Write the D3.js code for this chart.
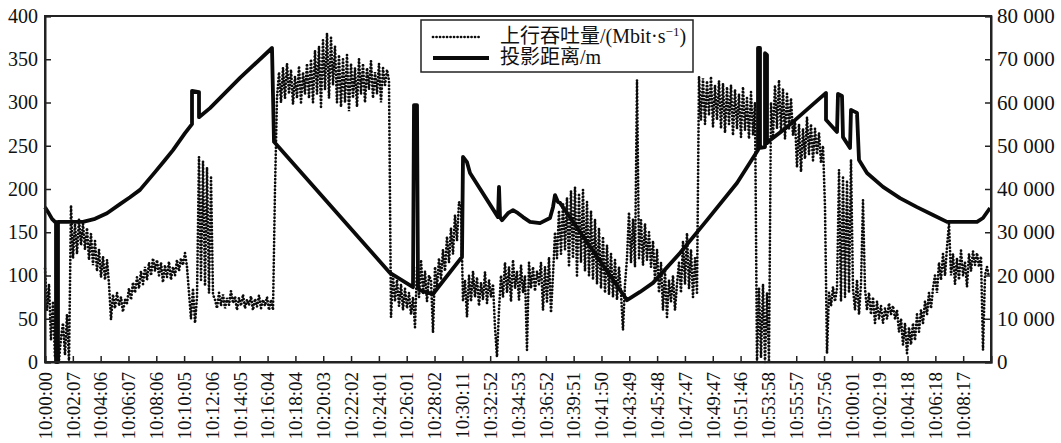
<!DOCTYPE html>
<html><head><meta charset="utf-8">
<script src="https://cdn.jsdelivr.net/npm/d3@7"></script>
<style>
html,body{margin:0;padding:0;background:#fff;}
svg{display:block;}
</style></head>
<body><svg id="c" width="1061" height="443"></svg>
<script>
// ---- data ----
const xLabels = ["10:00:00","10:02:07","10:04:06","10:06:07","10:08:06","10:10:05","10:12:06","10:14:05","10:16:04","10:18:04","10:20:03","10:22:02","10:24:01","10:26:01","10:28:02","10:30:11","10:32:52","10:34:53","10:36:52","10:39:51","10:41:50","10:43:49","10:45:48","10:47:47","10:49:47","10:51:46","10:53:58","10:55:57","10:57:56","10:00:01","10:02:19","10:04:18","10:06:18","10:08:17"];
const leftTicks = [0,50,100,150,200,250,300,350,400];
const rightTicks = [0,10000,20000,30000,40000,50000,60000,70000,80000];
const sampleCount = 946;      // samples along x
const throughputStep = 2;     // samples between throughput readings
// uplink throughput, Mbit/s (one reading every 2 samples)
const throughput = [
108,60,90,25,70,5,
20,2,28,45,8,55,0,
181,120,160,125,165,135,160,
130,155,118,148,112,140,105,130,98,122,95,118,90,
49,
78,62,80,65,75,58,72,68,
85,72,92,80,98,85,105,90,110,95,115,100,120,105,118,
100,115,92,112,98,116,95,110,100,118,105,120,112,
126,110,80,50,85,45,75,
237,95,232,88,225,80,215,78,
72,62,80,65,78,62,74,66,82,68,76,60,74,65,78,62,72,66,76,60,73,64,77,62,72,65,75,60,72,60,
200,305,
335,300,340,305,345,310,338,298,330,305,342,300,335,310,345,305,
350,300,360,310,365,295,372,315,380,305,375,320,365,300,355,
295,350,300,355,290,345,305,340,295,350,
310,345,300,340,315,348,305,335,310,345,300,340,320,338,325,
52,
100,70,95,65,90,60,85,62,80,55,75,
40,
110,75,118,80,105,70,100,95,34,
110,85,120,95,130,105,145,115,155,125,170,140,185,
180,70,
95,52,100,70,105,75,98,65,92,72,104,68,95,75,90,
40,6,60,
100,75,115,80,110,70,118,85,105,72,112,80,100,14,
115,85,110,82,105,90,
115,60,110,70,121,57,100,
150,120,175,125,184,
130,190,110,198,120,202,100,195,115,199,105,185,100,175,95,165,90,155,85,145,80,135,78,125,75,118,72,110,
80,37,90,
120,173,115,165,110,326,120,164,112,160,118,150,110,140,
95,130,80,115,60,105,52,95,70,100,60,90,
115,80,140,90,149,85,130,75,120,80,
330,
280,328,275,325,285,330,272,320,280,325,
270,322,265,318,275,320,262,315,270,310,260,318,268,305,258,312,262,300,
0,85,5,90,0,80,0,
300,260,320,270,326,265,315,258,310,270,305,262,
280,225,275,220,270,235,283,240,275,233,270,240,265,230,250,179,
10,
80,65,87,70,85,
222,70,215,75,210,80,
234,85,
60,95,55,90,
187,
85,60,80,55,75,45,70,50,65,45,
62,50,68,55,65,50,60,
35,50,20,45,10,40,
20,45,25,55,35,60,45,70,55,80,62,85,
100,80,115,95,125,100,133,160,
100,125,90,120,95,129,100,115,87,125,105,128,
112,126,110,122,
14,
100,110,98
];
// projected distance, m : [sample, metres]
const distance = [
[0,35800],[3,34700],[7,33100],[10,32400],[11,32400],[11,0],[13,0],[13,32400],[38,32400],[50,33100],[62,34400],[75,36500],[85,38100],[95,39800],
[110,43900],[120,46700],[128,49000],[140,52900],[147,55000],[147,62700],[154,62400],[154,56600],[165,58700],
[195,65700],[227,72600],[229,50900],[345,20600],[368,17300],[369,59400],[372,59400],[373,17300],
[375,16600],[380,16200],[388,15700],[395,17800],[417,24300],[418,47400],[422,46200],[425,43700],
[453,33500],[454,40500],[455,33500],[457,32800],[463,34400],[468,35100],[473,34400],[478,33500],[485,32400],
[495,32100],[505,33300],[508,35800],[510,38600],[513,37000],[515,36800],[582,14300],[595,16200],[608,18300],
[635,25200],[662,32800],[692,41400],[713,49000],[713,72600],[715,72600],[715,49500],[720,49700],[720,71400],
[722,71000],[722,50600],[725,51300],[742,54300],[775,61000],[781,62200],[781,56000],[792,53200],[793,62000],
[797,61500],[798,52000],[805,49500],[806,58300],[812,57600],[814,46700],[822,43700],[838,40500],[855,37900],
[872,35800],[888,34000],[902,32400],[932,32400],[938,33300],[945,35600]
];
const legendItems = ["上行吞吐量/(Mbit·s", "投影距离/m"];

// ---- chart ----
const FONT = "'Liberation Serif','Times New Roman','Noto Sans CJK SC',serif";
const svg = d3.select("#c").attr("font-family", FONT);
const m = {l:45, r:991, t:16, b:362};
const x = d3.scaleLinear().domain([0, sampleCount]).range([m.l, m.r]);
const yL = d3.scaleLinear().domain([0, 400]).range([m.b, m.t]);
const yR = d3.scaleLinear().domain([0, 80000]).range([m.b, m.t]);

// series
svg.append("path")
  .datum(throughput)
  .attr("fill","none").attr("stroke","#0a0a0a").attr("stroke-width",2.7)
  .attr("stroke-linecap","round")
  .attr("stroke-dasharray","0.1,3.4")
  .attr("d", d3.line().x((d,i)=>x(i*throughputStep)).y(d=>yL(d)));

svg.append("path")
  .datum(distance)
  .attr("fill","none").attr("stroke","#0a0a0a").attr("stroke-width",3.8)
  .attr("stroke-linejoin","round")
  .attr("d", d3.line().x(d=>x(d[0])).y(d=>yR(d[1])));

// frame
svg.append("rect").attr("x",m.l).attr("y",m.t).attr("width",m.r-m.l).attr("height",m.b-m.t)
  .attr("fill","none").attr("stroke","#222").attr("stroke-width",2);

// axes
const gL = svg.append("g").attr("transform",`translate(${m.l},0)`)
  .call(d3.axisLeft(yL).tickValues(leftTicks).tickSize(-6).tickPadding(7));
const gR = svg.append("g").attr("transform",`translate(${m.r},0)`)
  .call(d3.axisRight(yR).tickValues(rightTicks).tickSize(-6).tickPadding(6)
    .tickFormat(d=>d3.format(",")(d).replace(/,/g," ")));
const tickPos = xLabels.map((_,k)=>k*sampleCount/34);
const gB = svg.append("g").attr("transform",`translate(0,${m.b})`)
  .call(d3.axisBottom(x).tickValues(tickPos).tickSize(-6).tickPadding(5)
    .tickFormat((d,k)=>xLabels[k]));
[gL,gR,gB].forEach(g=>{
  g.attr("font-family", FONT).attr("font-size", 20);
  g.select(".domain").attr("stroke","#222").attr("stroke-width",2);
  g.selectAll(".tick line").attr("stroke","#222").attr("stroke-width",1.5);
  g.selectAll("text").attr("fill","#111");
});
gR.attr("font-size", 21);
gB.attr("font-size", 19);
gB.selectAll("text")
  .attr("transform","rotate(-90)").attr("text-anchor","end")
  .attr("x",-10).attr("y",0).attr("dy","0.33em");

// legend
const lg = svg.append("g");
lg.append("rect").attr("x",421).attr("y",20).attr("width",272).attr("height",52)
  .attr("fill","#fff").attr("stroke","#222").attr("stroke-width",1.5);
lg.append("line").attr("x1",433).attr("x2",482).attr("y1",37).attr("y2",37)
  .attr("stroke","#0a0a0a").attr("stroke-width",2.7).attr("stroke-linecap","round").attr("stroke-dasharray","0.1,3.4");
lg.append("line").attr("x1",433).attr("x2",489).attr("y1",58).attr("y2",58)
  .attr("stroke","#0a0a0a").attr("stroke-width",3.8);
const t1 = lg.append("text").attr("x",500).attr("y",43).attr("font-size","20px").attr("fill","#111");
t1.append("tspan").text(legendItems[0]);
t1.append("tspan").attr("font-size","13px").attr("dy","-7").text("−1");
t1.append("tspan").attr("dy","7").text(")");
lg.append("text").attr("x",500).attr("y",64).attr("font-size","20px").attr("fill","#111").text(legendItems[1]);
</script></body></html>
